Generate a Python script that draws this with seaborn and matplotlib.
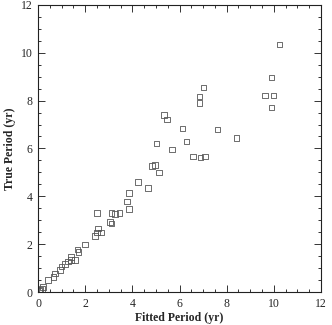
import numpy as np
import pandas as pd
import seaborn as sns
import matplotlib.pyplot as plt
from matplotlib.ticker import MultipleLocator

# ----------------------------- DATA --------------------------------------------------------------------

fitted_period = [
    0.05, 0.1, 0.17, 0.21, 0.42, 0.64, 0.72, 0.93, 1.0, 1.14, 1.27, 1.4, 1.4, 1.57,
    1.69, 1.7, 1.99, 2.42, 2.5, 2.54, 2.67, 2.5, 3.05, 3.13, 3.1, 3.26, 3.47, 3.86,
    3.77, 3.86, 4.24, 4.66, 4.83, 4.96, 5.13, 5.04, 5.34, 5.47, 5.68, 6.14, 6.3,
    6.57, 6.9, 7.08, 7.6, 8.4, 6.86, 6.86, 7.0, 9.62, 10.0, 9.9, 9.9, 10.25,
]
true_period = [
    0.05, 0.08, 0.13, 0.21, 0.5, 0.63, 0.79, 0.92, 1.05, 1.17, 1.26, 1.46, 1.34, 1.34,
    1.76, 1.67, 1.97, 2.34, 2.5, 2.64, 2.5, 3.3, 2.93, 2.85, 3.3, 3.26, 3.3, 3.47,
    3.77, 4.14, 4.6, 4.35, 5.27, 5.31, 4.98, 6.2, 7.4, 7.2, 5.94, 6.82, 6.28,
    5.65, 5.62, 5.65, 6.78, 6.44, 7.9, 8.16, 8.54, 8.2, 8.2, 8.95, 7.7, 10.33,
]

df = pd.DataFrame({"fitted": fitted_period, "true": true_period})

# ----------------------------- PLOT --------------------------------------------------------------------

sns.set_style("ticks")
plt.rcParams["font.family"] = ["Liberation Serif", "DejaVu Serif"]

fig = plt.figure(figsize=(3.32, 3.25), dpi=100)
ax = fig.add_axes([0.1145, 0.1015, 0.8525, 0.8835])

sns.scatterplot(
    data=df,
    x="fitted",
    y="true",
    marker="s",
    s=14,
    facecolor="none",
    edgecolor="#555555",
    linewidth=0.6,
    ax=ax,
)

ax.set_xlim(0, 12)
ax.set_ylim(0, 12)
ax.xaxis.set_major_locator(MultipleLocator(2))
ax.yaxis.set_major_locator(MultipleLocator(2))
ax.xaxis.set_minor_locator(MultipleLocator(0.5))
ax.yaxis.set_minor_locator(MultipleLocator(0.5))
ax.tick_params(which="both", direction="in", top=True, right=True,
               labelsize=8.5, color="#333333", width=0.7, pad=4)
ax.tick_params(which="major", length=5)
ax.tick_params(which="minor", length=2.5)
for sp in ax.spines.values():
    sp.set_linewidth(0.8)
    sp.set_color("#222222")

ax.set_xlabel("Fitted Period (yr)", fontsize=8.5, fontweight="bold", labelpad=2)
ax.set_ylabel("True Period (yr)", fontsize=8.5, fontweight="bold", labelpad=3)

plt.savefig("out.png", dpi=100)
plt.close()
